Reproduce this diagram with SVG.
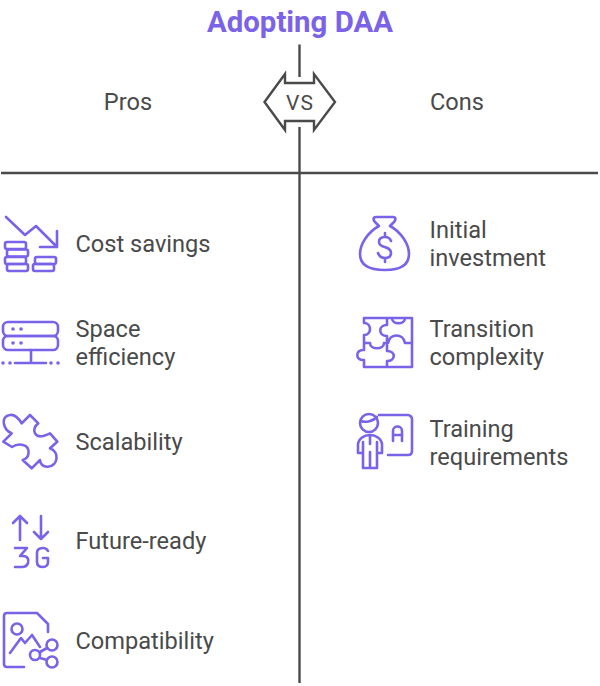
<svg xmlns="http://www.w3.org/2000/svg" width="600" height="686" viewBox="0 0 600 686">
<style>
text{font-family:Roboto,"Liberation Sans",sans-serif;fill:#4a4a4a;font-size:23.6px}
.title{fill:#7a63e8;font-size:29.4px;font-weight:700;text-anchor:middle}
.i{fill:none;stroke:#7a63e8;stroke-width:2.6;stroke-linecap:round;stroke-linejoin:round}
.d{fill:#7a63e8;stroke:none}
.c{fill:none;stroke:#4a4a4a;stroke-width:2.4}
</style>
<rect width="600" height="686" fill="#fff"/>
<text class="title" x="300" y="31.500">Adopting DAA</text>
<g id="connectors">
<path class="c" d="M299.500 44.500V77M299.500 127V683M1 173H598"/>
</g>
<g id="vs">
<path class="c" d="M264.500 102L285 74V83H314V74L335 102L314 130V121H285V130Z"/>
<text x="300" y="110" text-anchor="middle" style="font-size:21px;letter-spacing:1px">VS</text>
</g>
<g id="pros"><text x="128" y="110" text-anchor="middle">Pros</text></g>
<g id="cons"><text x="457" y="110" text-anchor="middle">Cons</text></g>
<g id="cost-savings">
<path class="i" d="M6 217L25 235L36 226L57 247M57 231V247H40"/>
<rect class="i" x="5" y="242" width="21" height="7" rx="2"/><rect class="i" x="7" y="249.500" width="21" height="7" rx="2"/><rect class="i" x="5" y="257" width="21" height="7" rx="2"/><rect class="i" x="7" y="264" width="21" height="7" rx="2"/>
<rect class="i" x="35" y="257" width="21" height="7" rx="2"/><rect class="i" x="33" y="264" width="21" height="7" rx="2"/>
<text x="75.500" y="252">Cost savings</text>
</g>
<g id="space-efficiency">
<rect class="i" x="3" y="322" width="55" height="14" rx="5"/><rect class="i" x="3" y="336" width="55" height="14" rx="5"/>
<path class="i" d="M31 350V363M15 363H46"/>
<circle class="d" cx="13" cy="329" r="1.800"/><circle class="d" cx="21" cy="329" r="1.800"/><circle class="d" cx="13" cy="343" r="1.800"/><circle class="d" cx="21" cy="343" r="1.800"/>
<circle class="d" cx="3" cy="363" r="1.800"/><circle class="d" cx="10" cy="363" r="1.800"/><circle class="d" cx="51" cy="363" r="1.800"/><circle class="d" cx="58" cy="363" r="1.800"/>
<text x="75.500" y="336.500">Space</text><text x="75.500" y="365">efficiency</text>
</g>
<g id="scalability">
<path class="i" d="M21.700 423.300L30 415L38.300 423.300C31 428 33 442 50 433.300L57.300 441.700L50 448.300C60 452 58 466 48 466.700C43 467 40 464 40 460L31.700 468.300L22.700 460C30 458 31 447 23 445C19 444 15 445 12 447L3.300 441.700L11.700 433.300C3 430 0 416 10 415C15 414 19 419 21.700 423.300Z"/>
<text x="75.500" y="449.500">Scalability</text>
</g>
<g id="future-ready">
<path class="i" d="M20 540V516M13 523L20 516L27 523M41 516V539M34 532L41 539L48 532"/>
<path class="i" d="M15 548H27L20 556H23C28 556 29 560 28 563C27 566 25 567 22 567H15"/>
<path class="i" d="M48 551C47 549 46 548 43 548C39 548 37 550 37 553V562C37 565 39 567 43 567C46 567 48 565 48 562V558H43"/>
<text x="75.500" y="549">Future-ready</text>
</g>
<g id="compatibility">
<path class="i" d="M24 667H7C5 667 4 666 4 664V616C4 614 5 613 7 613H37L48 624V632"/>
<circle class="i" cx="17" cy="629" r="5.500"/>
<path class="i" d="M10 653L21 638L25 643L32 635L40 647"/>
<circle class="i" cx="35" cy="655" r="5"/><circle class="i" cx="52" cy="645" r="5.500"/><circle class="i" cx="52" cy="662" r="5.500"/>
<path class="i" d="M40 652L47 648M40 658L47 660"/>
<text x="75.500" y="648.500">Compatibility</text>
</g>
<g id="initial-investment">
<path class="i" d="M376 217H393C396 217 396 220 394 222L390 226C401 232 409 244 409 254C409 265 400 270 385 270C369 270 360 265 360 254C360 244 368 232 379 226L375 222C373 220 373 217 376 217Z"/>
<path class="i" d="M391 241C390 238 388 237 385 237C381 237 379 239 379 242C379 249 391 245 391 253C391 256 389 258 385 258C381 258 379 256 378 253M385 233V237M385 258V262"/>
<text x="429.500" y="237.500">Initial</text><text x="429.500" y="265.500">investment</text>
</g>
<g id="transition-complexity">
<path class="i" d="M364 318H412V367H364V360C355 361 355 349 364 350V343V335C372 335 372 323 364 323ZM364 343H370C370 350 384 350 384 343H388C390 333 403 333 405 343H412M387 318V325C378 325 378 336 387 336V351C396 351 396 361 387 361V367M392 318C392 325 405 325 405 318"/>
<text x="429.500" y="336.500">Transition</text><text x="429.500" y="365">complexity</text>
</g>
<g id="training-requirements">
<circle class="i" cx="369" cy="423" r="9"/><path class="i" d="M361 421C366 423 373 421 377 417"/>
<path class="i" d="M379 415H408C410 415 412 417 412 419V451C412 454 410 455 408 455H388"/>
<path class="i" d="M393 441V431C393 425 402 425 402 431V441M393 435H402"/>
<path class="i" d="M358 453V445C358 439 364 435 370 435C376 435 382 439 382 445V453H377M358 453H363M363 442V468H377V442M370 436V444M370 452V468"/>
<text x="429.500" y="436.500">Training</text><text x="429.500" y="464.500">requirements</text>
</g>
</svg>
